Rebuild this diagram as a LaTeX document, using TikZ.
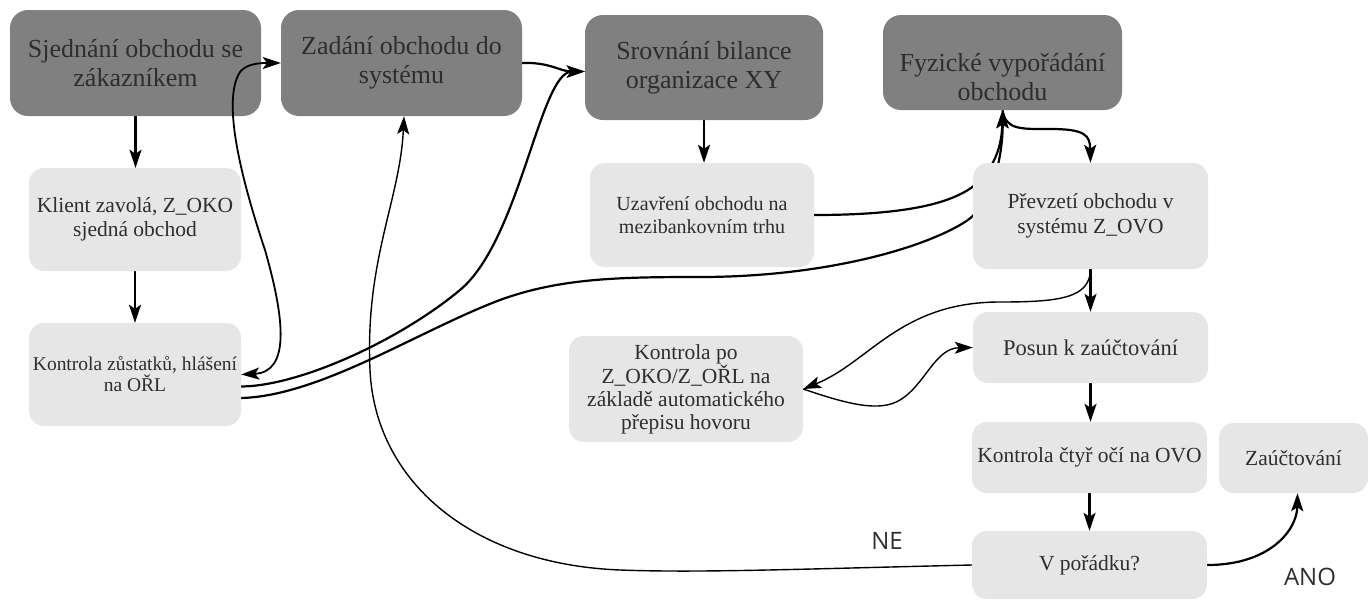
\documentclass[tikz,border=0pt]{standalone}
\usepackage{fontspec}
\setmainfont{Liberation Serif}
\newfontfamily\boxfont{Liberation Serif}
\newfontfamily\labelfont{Open Sans}
\usetikzlibrary{arrows.meta}
\pgfdeclarelayer{bg}
\pgfsetlayers{bg,main}
\definecolor{stagegray}{HTML}{808080}
\definecolor{taskgray}{HTML}{E6E6E6}
\definecolor{inkgray}{HTML}{2E2E2E}
\tikzset{
  stage/.style={rectangle, rounded corners=18pt, fill=stagegray, text=inkgray,
    align=center, inner sep=0pt, font=\boxfont\fontsize{26}{29}\selectfont},
  stagetext/.style={align=center, inner sep=0pt, text=inkgray,
    font=\boxfont\fontsize{26}{29}\selectfont},
  task/.style={rectangle, rounded corners=15pt, fill=taskgray, text=inkgray,
    align=center, inner sep=0pt, font=\boxfont\fontsize{21.5}{24}\selectfont},
  tip/.tip={Stealth[length=18pt,width=12pt,inset=4pt]},
  flow/.style={line width=2.2pt, -tip},
  bothflow/.style={line width=1.8pt, tip-tip},
  thinflow/.style={line width=1.4pt, -tip},
  answer/.style={font=\labelfont\fontsize{24}{28}\selectfont, text=inkgray}
}
\begin{document}
\begin{tikzpicture}[x=1pt,y=-1pt]
\useasboundingbox (0,0) rectangle (1370,600);

% main stages
\node[stage, minimum width=251pt, minimum height=106pt] (deal) at (135.5,63)
  {Sjednání obchodu se\\zákazníkem};
\node[stage, minimum width=241pt, minimum height=106pt] (entry) at (401.5,63)
  {Zadání obchodu do\\systému};
\node[stage, minimum width=238pt, minimum height=105pt] (balance) at (704,67.5)
  {Srovnání bilance\\organizace XY};
\node[stage, minimum width=239pt, minimum height=95pt] (settle) at (1002.5,62.5) {};
\node[stagetext] (settletext) at (1002.5,77) {Fyzické vypořádání\\obchodu};

% individual steps
\node[task, minimum width=212pt, minimum height=103pt] (call) at (135,219.5)
  {Klient zavolá, Z\_OKO\\sjedná obchod};
\node[task, minimum width=212pt, minimum height=103pt,
  font=\boxfont\fontsize{19.5}{21}\selectfont] (check) at (135,374.5)
  {Kontrola zůstatků, hlášení\\na OŘL};
\node[task, minimum width=224pt, minimum height=104pt,
  font=\boxfont\fontsize{20}{23}\selectfont] (interbank) at (702,215)
  {Uzavření obchodu na\\mezibankovním trhu};
\node[task, minimum width=235pt, minimum height=106pt,
  font=\boxfont\fontsize{21.5}{25}\selectfont] (takeover) at (1090.5,216)
  {Převzetí obchodu v\\systému Z\_OVO};
\node[task, minimum width=234pt, minimum height=106pt,
  font=\boxfont\fontsize{21.5}{23}\selectfont] (review) at (686,389)
  {Kontrola po\\Z\_OKO/Z\_OŘL na\\základě automatického\\přepisu hovoru};
\node[task, minimum width=235pt, minimum height=71pt,
  font=\boxfont\fontsize{22.5}{25}\selectfont] (shift) at (1090.5,347.5)
  {Posun k zaúčtování};
\node[task, minimum width=235pt, minimum height=71pt] (four) at (1089.5,457.5)
  {Kontrola čtyř očí na OVO};
\node[task, minimum width=149pt, minimum height=70pt] (post) at (1293.5,458)
  {Zaúčtování};
\node[task, minimum width=235pt, minimum height=68pt] (ok) at (1089.5,565)
  {V pořádku?};

% branch labels
\node[answer] (no) at (887,541) {NE};
\node[answer] (yes) at (1310,577) {ANO};

% order entry loop, drawn over the first stage
\draw[bothflow] (check.east) .. controls (290,372) and (285,320) .. (265,250)
  .. controls (240,175) and (222,100) .. (240,72)
  .. controls (247,63) and (262,63) .. (entry.west);

\begin{pgfonlayer}{bg}
  % straight steps
  \draw[flow] (deal.south) -- (deal.south |- call.north);
  \draw[flow] (call.south) -- (check.north);
  \draw[flow] (balance.south) -- (balance.south |- interbank.north);
  \draw[flow] (takeover.south) -- (shift.north);
  \draw[flow] (shift.south) -- (shift.south |- four.north);
  \draw[flow] (four.south) -- (ok.north);

  % entry into the system
  \draw[flow] (entry.east) .. controls +(28,-1) and +(-25,0) .. ([yshift=-4pt]balance.west);

  % from the balance check
  \draw[flow] ([yshift=-12pt]check.east) .. controls (300,386) and (400,340) .. (460,290)
    .. controls (520,240) and (540,72) .. ([yshift=-4pt]balance.west);
  \draw[flow] ([yshift=-23.5pt]check.east) .. controls (320,396) and (420,330) .. (500,300)
    .. controls (560,278) and (620,277) .. (700,277)
    .. controls (820,277) and (920,250) .. (965,222)
    .. controls (995,203) and (1003,150) .. (settle.south);

  % settlement
  \draw[flow] (interbank.east) .. controls (900,215) and (950,205) .. (975,185)
    .. controls (998,165) and (1002,140) .. (settle.south);
  \draw[flow] (settle.south) .. controls (1006,130) and (1020,129) .. (1050,129)
    .. controls (1085,129) and (1090,135) .. (takeover.north);

  % call transcript review
  \draw[thinflow] (takeover.south) .. controls (1090,298) and (1060,302) .. (1000,302)
    .. controls (900,302) and (870,362) .. (review.east);
  \draw[thinflow] (review.east) .. controls (850,405) and (880,412) .. (900,400)
    .. controls (925,385) and (935,348) .. (shift.west);

  % outcome of the check
  \draw[flow] (ok.east) .. controls (1270,565) and (1297,530) .. ([xshift=4pt]post.south);
  \draw[thinflow] (ok.west) .. controls (800,569) and (700,573) .. (620,570)
    .. controls (470,564) and (375,480) .. (370,370)
    .. controls (365,260) and (400,200) .. ([xshift=2.5pt]entry.south);
\end{pgfonlayer}
\end{tikzpicture}
\end{document}
